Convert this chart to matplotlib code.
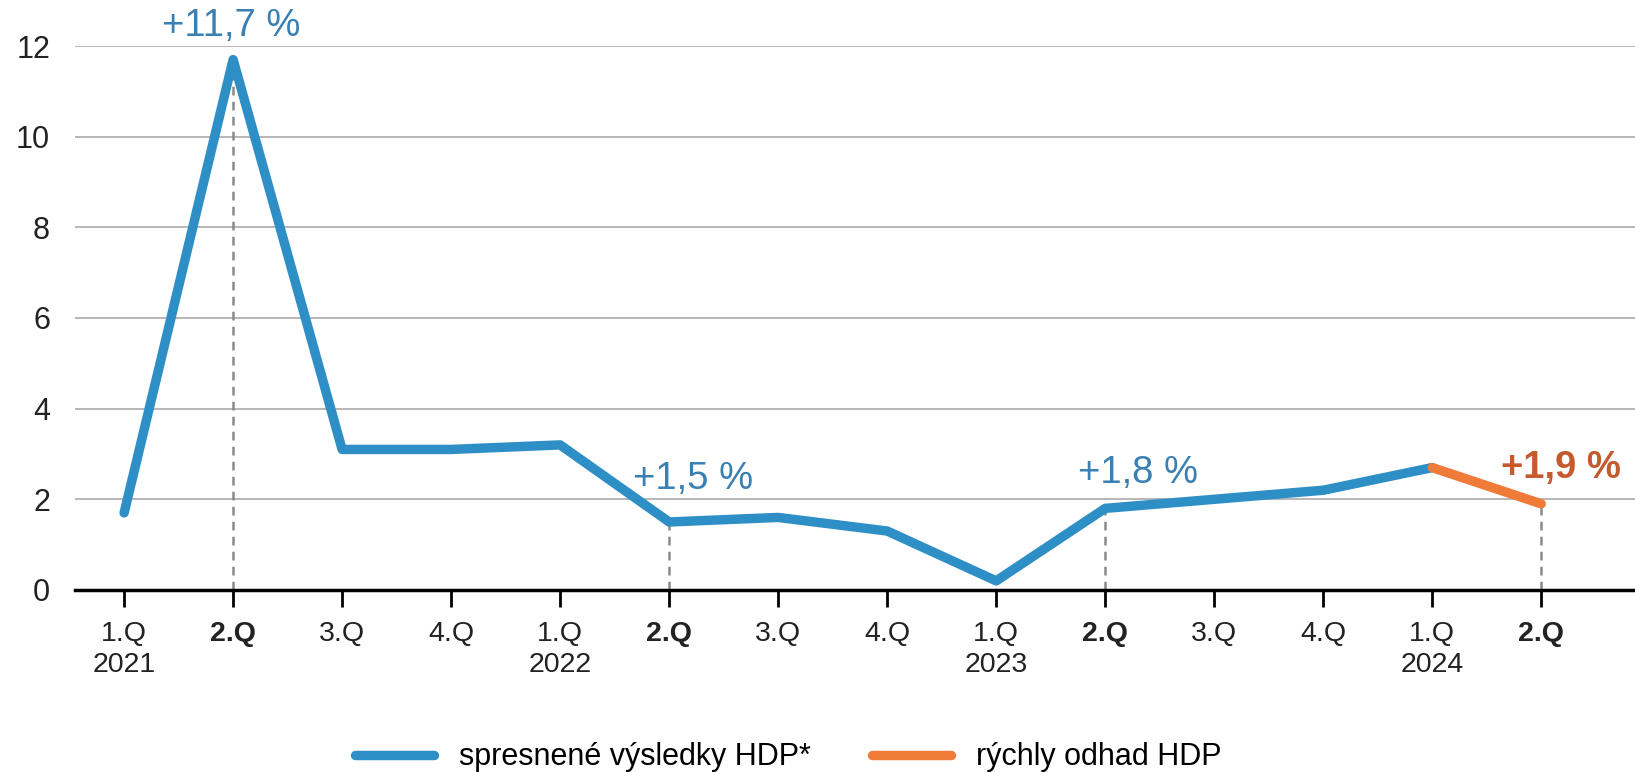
import matplotlib
matplotlib.use("Agg")
import matplotlib.pyplot as plt

plt.rcParams['font.family'] = ['Liberation Sans', 'DejaVu Sans']

quarters = ["1.Q", "2.Q", "3.Q", "4.Q"] * 3 + ["1.Q", "2.Q"]
years = ["2021", "", "", "", "2022", "", "", "", "2023", "", "", "", "2024", ""]
hdp = [1.7, 11.7, 3.1, 3.1, 3.2, 1.5, 1.6, 1.3, 0.2, 1.8, 2.0, 2.2, 2.7]
odhad = [2.7, 1.9]
highlight = [1, 5, 9, 13]
labels = ["+11,7 %", "+1,5 %", "+1,8 %", "+1,9 %"]

blue = "#2E8FC6"
orange = "#F07A38"

fig = plt.figure(figsize=(16.35, 7.72), dpi=100)
ax = fig.add_axes([0.0459, 0.2358, 0.9541, 0.7046])

allvals = hdp + odhad[1:]
for i in highlight:
    ax.plot([i, i], [0, allvals[i]], color="#8A8A8A", lw=1.8, ls=(0, (3.5, 2.5)), zorder=2)

ax.plot(range(len(hdp)), hdp, color=blue, lw=6.8, solid_capstyle="round",
        solid_joinstyle="round", zorder=3, label="spresnené výsledky HDP*")
ax.plot([len(hdp) - 1, len(hdp)], odhad, color=orange, lw=6.8, solid_capstyle="round",
        zorder=4, label="rýchly odhad HDP")

# popisky
ax.text(0.98, 12.05, labels[0], color="#3A80B2", fontsize=27.5, ha="center", va="bottom", clip_on=False)
ax.text(5.22, 2.05, labels[1], color="#3A80B2", fontsize=27.5, ha="center", va="bottom")
ax.text(9.3, 2.18, labels[2], color="#3A80B2", fontsize=27.5, ha="center", va="bottom")
ax.text(13.18, 2.3, labels[3], color="#C45A2E", fontsize=27.5, ha="center", va="bottom",
        fontweight="bold")

ax.set_xlim(-0.45, 13.86)
ax.set_ylim(0, 12)
ax.set_yticks([0, 2, 4, 6, 8, 10, 12])
ax.set_yticklabels(["0", "2", "4", "6", "8", "10", "12"])
ax.tick_params(axis="y", length=0, pad=18, labelsize=22, labelcolor="#222222")
ax.grid(axis="y", color="#AAAAAA", lw=1.2)
ax.set_axisbelow(True)

ax.set_xticks(range(len(quarters)))
ax.set_xticklabels([q + "\n" + y for q, y in zip(quarters, years)], fontsize=20.5,
                   linespacing=1.25, color="#222222")
for i, t in enumerate(ax.get_xticklabels()):
    if i in highlight:
        t.set_fontweight("bold")
ax.tick_params(axis="x", length=12, width=2, pad=10, color="black")

for s in ["top", "right", "left"]:
    ax.spines[s].set_visible(False)
ax.spines["bottom"].set_linewidth(2.5)
ax.spines["bottom"].set_zorder(5)

fig.legend(loc="center", bbox_to_anchor=(0.482, 0.019), ncol=2, frameon=False,
           fontsize=22, handlelength=2.6, columnspacing=2.0, handletextpad=0.8,
           borderpad=0.05)

fig.savefig("out.png", dpi=100)
